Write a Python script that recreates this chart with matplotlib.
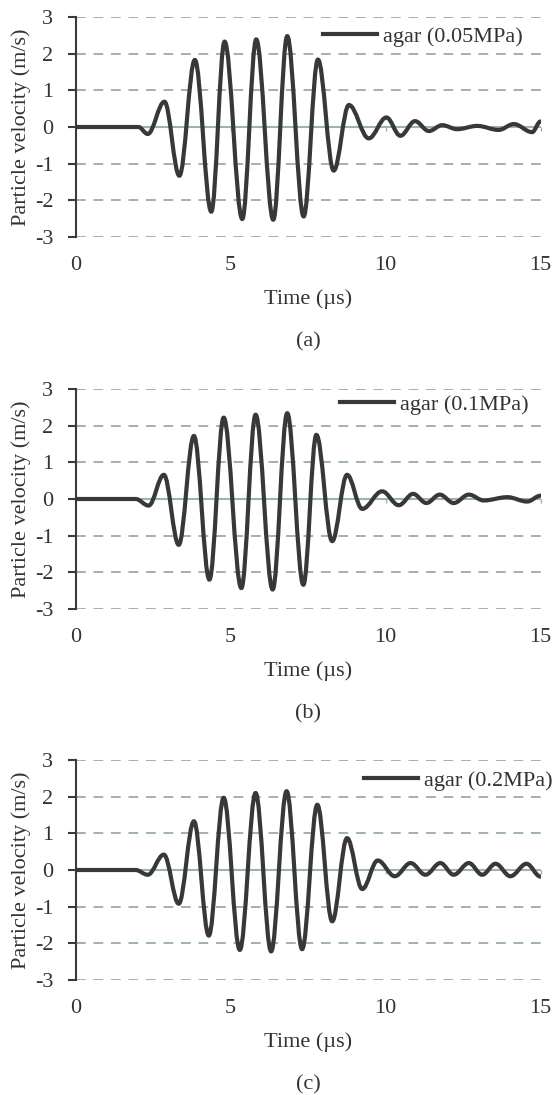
import matplotlib
matplotlib.use("Agg")
import matplotlib.pyplot as plt
from matplotlib.path import Path
from matplotlib.patches import PathPatch
from matplotlib.lines import Line2D

# ---------------- data (extrema) ----------------
time_a = [0.0, 2.03, 2.33, 2.87, 3.35, 3.85, 4.38, 4.81, 5.38, 5.83, 6.38, 6.83,
          7.36, 7.82, 8.33, 8.82, 9.46, 10.03, 10.48, 10.95, 11.40, 11.83,
          12.31, 12.96, 13.65, 14.14, 14.73, 15.0]
vel_a = [0.0, 0.0, -0.19, 0.69, -1.33, 1.83, -2.31, 2.33, -2.51, 2.39, -2.53, 2.48,
         -2.44, 1.84, -1.19, 0.60, -0.31, 0.26, -0.24, 0.16, -0.11, 0.05,
         -0.06, 0.03, -0.08, 0.08, -0.14, 0.15]

time_b = [0.0, 1.94, 2.36, 2.85, 3.33, 3.82, 4.32, 4.78, 5.35, 5.81, 6.36, 6.83,
          7.35, 7.77, 8.28, 8.76, 9.25, 9.89, 10.43, 10.89, 11.32, 11.75,
          12.20, 12.69, 13.17, 13.93, 14.57, 15.0]
vel_b = [0.0, 0.0, -0.18, 0.66, -1.25, 1.72, -2.20, 2.22, -2.43, 2.30, -2.47, 2.34,
         -2.34, 1.75, -1.15, 0.66, -0.27, 0.21, -0.17, 0.14, -0.11, 0.12,
         -0.11, 0.12, -0.04, 0.05, -0.07, 0.09]

time_c = [0.0, 1.94, 2.33, 2.85, 3.33, 3.82, 4.30, 4.78, 5.30, 5.81, 6.31, 6.81,
          7.31, 7.80, 8.28, 8.76, 9.25, 9.75, 10.30, 10.81, 11.29, 11.77,
          12.20, 12.69, 13.12, 13.55, 14.03, 14.55, 15.0]
vel_c = [0.0, 0.0, -0.13, 0.42, -0.92, 1.33, -1.79, 1.97, -2.18, 2.10, -2.22, 2.15,
         -2.16, 1.78, -1.40, 0.87, -0.52, 0.26, -0.17, 0.19, -0.13, 0.19,
         -0.13, 0.19, -0.13, 0.17, -0.17, 0.17, -0.18]

labels = ["agar (0.05MPa)", "agar (0.1MPa)", "agar (0.2MPa)"]
panel_tags = ["(a)", "(b)", "(c)"]
x_ticks = [0, 5, 10, 15]
y_ticks = [-3, -2, -1, 0, 1, 2, 3]
x_label = "Time (\u00b5s)"
y_label = "Particle velocity (m/s)"

# ---------------- style ----------------
plt.rcParams['font.family'] = ['Liberation Serif', 'DejaVu Serif']
plt.rcParams['axes.unicode_minus'] = False
FS = 16
CURVE = '#383838'
GRID = '#9db3ac'
TXT = '#333333'

W, H = 555, 1095
fig = plt.figure(figsize=(W / 100, H / 100), dpi=100)
fig.patch.set_facecolor('white')

# axes pixel boxes (top, bottom)
boxes = [(17, 237), (389, 609), (760, 980)]
left_px, right_px = 75.5, 540.5
legend_anchor = [(0.961, 0.91), (0.974, 0.93), (1.026, 0.907)]


def wave_path(ts, vs, k=0.3642):
    verts = [(ts[0], vs[0])]
    codes = [Path.MOVETO]
    for i in range(1, len(ts)):
        d = ts[i] - ts[i - 1]
        verts += [(ts[i - 1] + k * d, vs[i - 1]), (ts[i] - k * d, vs[i]), (ts[i], vs[i])]
        codes += [Path.CURVE4] * 3
    return Path(verts, codes)


series = [(time_a, vel_a), (time_b, vel_b), (time_c, vel_c)]
for idx, ((top, bot), (ts, vs)) in enumerate(zip(boxes, series)):
    ax = fig.add_axes([left_px / W, 1 - bot / H, (right_px - left_px) / W, (bot - top) / H])
    ax.set_xlim(0, 15)
    ax.set_ylim(-3, 3)
    ax.set_facecolor('none')
    for s in ['top', 'right', 'bottom']:
        ax.spines[s].set_visible(False)
    ax.spines['left'].set_color('#3a3a3a')
    ax.spines['left'].set_linewidth(1.5)

    # dashed gridlines
    ax.set_yticks(y_ticks)
    for yv in y_ticks:
        if yv == 0:
            ax.axhline(yv, color=GRID, lw=1.5, zorder=1)
        else:
            ax.axhline(yv, color=GRID, lw=1.4, ls=(0, (5, 4)), zorder=1)

    ax.set_xticks(x_ticks)
    ax.tick_params(axis='x', length=0, pad=14, labelsize=FS, labelcolor=TXT)
    ax.tick_params(axis='y', direction='out', length=6, width=1.5, color='#3a3a3a',
                   pad=10, labelsize=FS, labelcolor=TXT)

    # small ticks on zero line
    sec = ax.secondary_xaxis(0.5)
    for s in sec.spines.values():
        s.set_visible(False)
    sec.set_xticks(x_ticks[1:])
    sec.set_xticklabels([])
    sec.tick_params(length=3, width=1.0, color=GRID, direction='in',
                    labelbottom=False, labeltop=False)

    ax.add_patch(PathPatch(wave_path(ts, vs), fill=False, edgecolor=CURVE, lw=3.0,
                           capstyle='round', joinstyle='round', zorder=3))

    handle = Line2D([], [], color=CURVE, lw=3.0)
    ax.legend([handle], [labels[idx]], loc='center right', bbox_to_anchor=legend_anchor[idx],
              frameon=False, fontsize=FS, handlelength=2.45, handletextpad=0.25,
              borderpad=0, borderaxespad=0, labelcolor=TXT)

    ax.set_xlabel(x_label, fontsize=FS, color=TXT, labelpad=10)
    ax.set_ylabel(y_label, fontsize=FS, color=TXT)
    ax.yaxis.set_label_coords(-0.095, 0.5)

    fig.text(0.5 * (left_px + right_px) / W, 1 - (bot + 105) / H, panel_tags[idx],
             ha='center', va='center', fontsize=FS, color=TXT)

fig.savefig('out.png', dpi=100, facecolor='white')
